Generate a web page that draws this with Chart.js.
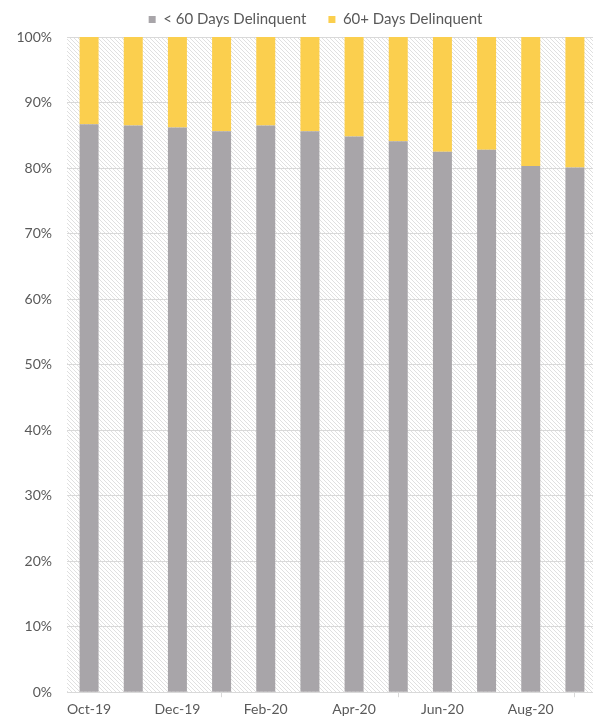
<!DOCTYPE html>
<html>
<head>
<meta charset="utf-8">
<script src="https://cdn.jsdelivr.net/npm/chart.js@4.4.1/dist/chart.umd.min.js"></script>
<style>
  html, body { margin: 0; padding: 0; background: #ffffff; overflow: hidden; }
  #wrap { position: relative; width: 600px; height: 724px; }
</style>
</head>
<body>
<div id="wrap"><canvas id="c"></canvas></div>
<script>
const months = ['Oct-19','Nov-19','Dec-19','Jan-20','Feb-20','Mar-20','Apr-20','May-20','Jun-20','Jul-20','Aug-20','Sep-20'];
const under60 = [86.7, 86.5, 86.2, 85.6, 86.5, 85.6, 84.8, 84.1, 82.5, 82.8, 80.3, 80.1];
const over60  = [13.3, 13.5, 13.8, 14.4, 13.5, 14.4, 15.2, 15.9, 17.5, 17.2, 19.7, 19.9];
const seriesNames = ['< 60 Days Delinquent', '60+ Days Delinquent'];
const yTicks = [0, 10, 20, 30, 40, 50, 60, 70, 80, 90, 100];

function makeHatch() {
  const s = 4;
  const t = document.createElement('canvas');
  t.width = s; t.height = s;
  const g = t.getContext('2d');
  g.fillStyle = '#ffffff';
  g.fillRect(0, 0, s, s);
  g.strokeStyle = '#e0e0e0';
  g.lineWidth = 1;
  for (let k = -1; k <= 1; k++) {
    g.beginPath();
    g.moveTo(k * s, 0);
    g.lineTo(k * s + s, s);
    g.stroke();
  }
  return g.createPattern(t, 'repeat');
}

const hatchPlugin = {
  id: 'hatchBg',
  beforeDraw(chart) {
    const a = chart.chartArea;
    const ctx = chart.ctx;
    ctx.save();
    ctx.fillStyle = makeHatch();
    ctx.fillRect(a.left, a.top, a.right - a.left, a.bottom - a.top);
    ctx.restore();
  }
};

const PAD_TOP = -10;
const legendTweak = {
  id: 'legendTweak',
  afterInit(chart) {
    const lg = chart.legend;
    const orig = lg.fit;
    lg.fit = function () {
      orig.call(this);
      this.height = 37 - PAD_TOP;
    };
  },
  afterLayout(chart) {
    const lg = chart.legend;
    lg.left += 17;
    lg.right += 17;
  }
};

Chart.defaults.font.family = 'Lato, "Open Sans", sans-serif';
Chart.defaults.color = '#595959';

new Chart(document.getElementById('c'), {
  type: 'bar',
  data: {
    labels: months,
    datasets: [
      { label: seriesNames[0], data: under60, backgroundColor: '#a8a5a9', borderWidth: 0 },
      { label: seriesNames[1], data: over60, backgroundColor: '#fbcf4e', borderWidth: 0 }
    ]
  },
  options: {
    responsive: true,
    maintainAspectRatio: false,
    animation: false,
    layout: { padding: { left: 0, right: 3, top: PAD_TOP, bottom: 2 } },
    plugins: {
      legend: {
        position: 'top',
        labels: {
          boxWidth: 7,
          boxHeight: 7,
          padding: 22,
          font: { size: 15 },
          color: '#595959'
        }
      },
      tooltip: { enabled: false }
    },
    datasets: { bar: { barPercentage: 0.43, categoryPercentage: 1 } },
    scales: {
      x: {
        stacked: true,
        grid: { display: true, drawOnChartArea: false, drawTicks: true, tickLength: 5, color: '#d9d9d9', offset: true },
        border: { display: true, color: '#d9d9d9' },
        ticks: { autoSkip: true, maxTicksLimit: 6, maxRotation: 0, padding: 4, font: { size: 14 }, color: '#595959' }
      },
      y: {
        stacked: true,
        min: 0,
        max: 100,
        afterBuildTicks(scale) { scale.ticks = yTicks.map(v => ({ value: v })); },
        afterFit(scale) { scale.width = 67; },
        grid: { color: '#d9d9d9', drawTicks: false },
        border: { display: false },
        ticks: { padding: 15, font: { size: 14 }, color: '#595959', callback: v => v + '%' }
      }
    }
  },
  plugins: [hatchPlugin, legendTweak]
});
</script>
</body>
</html>
